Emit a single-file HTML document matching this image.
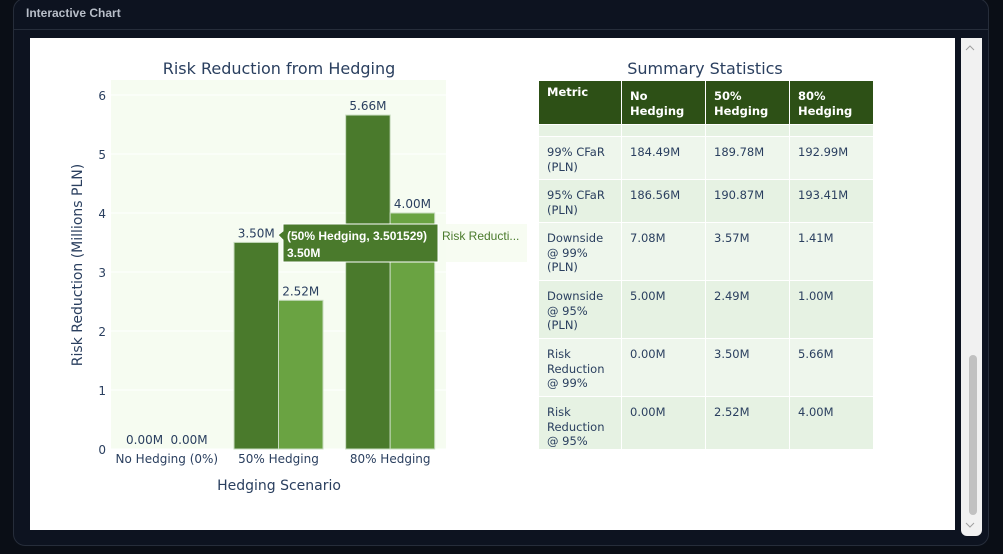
<!DOCTYPE html>
<html><head><meta charset="utf-8">
<style>
body{margin:0;width:1003px;height:554px;background:#0a0e16;overflow:hidden;font-family:"Liberation Sans",sans-serif;position:relative}
#panel{position:absolute;left:13px;top:-2px;width:976px;height:548px;background:#0d1320;border:1px solid #262d3a;border-radius:12px;box-sizing:border-box}
#hdr{position:absolute;left:26px;top:6px;font-size:12px;color:#b8bec8;font-weight:bold}
#hline{position:absolute;left:14px;top:29px;width:975px;height:1px;background:#262d3a}
#white{position:absolute;left:30px;top:38px;width:925px;height:492px;background:#fff}
#sb{position:absolute;left:961px;top:38px;width:21px;height:498px;background:#f1f1f1;border-radius:0 0 6px 6px}
#thumb{position:absolute;left:969px;top:355px;width:8px;height:160px;background:#c1c1c1;border-radius:4px}
table{position:absolute;border-collapse:collapse;font-family:"DejaVu Sans",sans-serif;font-size:11.5px;color:#2a3f5f;table-layout:fixed}
td{border:1px solid #fff;vertical-align:top;padding:8px 6px 0 8px;line-height:14.5px;box-sizing:border-box;overflow:hidden}
</style></head><body>
<div id="panel"></div>
<div id="hdr">Interactive Chart</div>
<div id="hline"></div>
<div id="white"></div>
<div id="sb"></div>
<div id="thumb"></div>
<svg width="1003" height="554" style="position:absolute;left:0;top:0" id="svg" font-family="DejaVu Sans, sans-serif">
<rect x="111" y="80" width="335" height="369" fill="#f6fcf1"/>
<g id="grid"></g><g id="bars"></g><g id="labels"></g>
<text x="279" y="74" text-anchor="middle" font-size="16" fill="#2a3f5f">Risk Reduction from Hedging</text>
<text x="279" y="490" text-anchor="middle" font-size="14" fill="#2a3f5f">Hedging Scenario</text>
<text transform="translate(82,265) rotate(-90)" text-anchor="middle" font-size="14" fill="#2a3f5f">Risk Reduction (Millions PLN)</text>
<text x="705" y="74" text-anchor="middle" font-size="16" fill="#2a3f5f">Summary Statistics</text>
<g>
<rect x="441" y="224" width="86" height="38" fill="#f6fcf1" opacity="0.9"/>
<path d="M283,224 H438 V262 H283 V240 L278,235 L283,231 Z" fill="#4a7a2c" stroke="#fff" stroke-width="1"/>
<text x="287" y="240" font-size="12" font-weight="bold" fill="#fff" font-family="Liberation Sans, sans-serif">(50% Hedging, 3.501529)</text>
<text x="287" y="257" font-size="12" font-weight="bold" fill="#fff" font-family="Liberation Sans, sans-serif">3.50M</text>
<text x="442" y="240" font-size="12" fill="#4a7a2c" font-family="Liberation Sans, sans-serif">Risk Reducti...</text>
</g>
<path d="M966,50 l4,-4 l4,4 M966,523 l4,4 l4,-4" stroke="#a0a0a0" fill="none"/>
</svg>
<table style="left:538px;top:80px;width:335px">
<colgroup><col style="width:83px"><col style="width:84px"><col style="width:84px"><col style="width:84px"></colgroup>
<tr style="height:44px;background:#2d5016;color:#fff;font-weight:bold"><td style="padding-top:4px">Metric</td><td>No<br>Hedging</td><td>50%<br>Hedging</td><td>80%<br>Hedging</td></tr>
<tr style="height:12px;background:#e6f2e3"><td style="padding:0"></td><td style="padding:0"></td><td style="padding:0"></td><td style="padding:0"></td></tr>
<tr style="height:43px;background:#eef6ec"><td>99% CFaR (PLN)</td><td>184.49M</td><td>189.78M</td><td>192.99M</td></tr>
<tr style="height:43px;background:#e6f2e3"><td>95% CFaR (PLN)</td><td>186.56M</td><td>190.87M</td><td>193.41M</td></tr>
<tr style="height:58px;background:#eef6ec"><td>Downside @ 99% (PLN)</td><td>7.08M</td><td>3.57M</td><td>1.41M</td></tr>
<tr style="height:58px;background:#e6f2e3"><td>Downside @ 95% (PLN)</td><td>5.00M</td><td>2.49M</td><td>1.00M</td></tr>
<tr style="height:58px;background:#eef6ec"><td>Risk Reduction @ 99%</td><td>0.00M</td><td>3.50M</td><td>5.66M</td></tr>
<tr style="height:53px;background:#e6f2e3"><td>Risk Reduction @ 95%</td><td>0.00M</td><td>2.52M</td><td>4.00M</td></tr>
</table>
<script>
const categories=["No Hedging (0%)","50% Hedging","80% Hedging"];
const rr99=[0.0,3.501529,5.66];
const rr95=[0.0,2.52,4.0];
const yTicks=[0,1,2,3,4,5,6];
const NS="http://www.w3.org/2000/svg";
const x0=111,x1=446,yBase=449,pxPerUnit=59;
const y=v=>yBase-v*pxPerUnit;
const band=(x1-x0)/categories.length;
const grid=document.getElementById('grid'),bars=document.getElementById('bars'),labels=document.getElementById('labels');
function mk(tag,attrs,parent,txt){const e=document.createElementNS(NS,tag);for(const k in attrs)e.setAttribute(k,attrs[k]);if(txt!==undefined)e.textContent=txt;parent.appendChild(e);return e;}
yTicks.forEach(t=>{
  const l=mk('line',{x1:x0,x2:x1,y1:y(t),y2:y(t),stroke:'#ffffff','stroke-width':1},grid);
  
  
  const tx=mk('text',{x:106,y:y(t)+5,'text-anchor':'end','font-size':12,fill:'#2a3f5f'},labels,String(t));
  
  
});
const bw=44.5;
categories.forEach((c,i)=>{
  const cx=x0+band*(i+0.5);
  const tx=mk('text',{x:cx,y:463,'text-anchor':'middle','font-size':12,fill:'#2a3f5f'},labels,c);
  
  
  [[rr99[i],'#4a7a2c',cx-bw,'bar-rr99'],[rr95[i],'#6aa342',cx,'bar-rr95']].forEach(([v,col,bx,nm])=>{
    const r=mk('rect',{x:bx,y:y(v),width:bw,height:yBase-y(v),fill:col,stroke:'#c8dcc0','stroke-width':v>0?1:0},bars);
    
    
    const lb=mk('text',{x:bx+bw/2,y:y(v)-5,'text-anchor':'middle','font-size':12,fill:'#2a3f5f'},labels,v.toFixed(2)+'M');
    
    
  });
});
</script>
</body></html>
